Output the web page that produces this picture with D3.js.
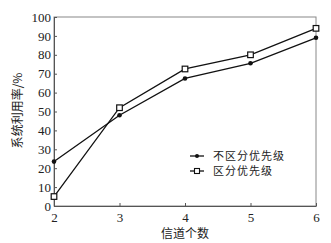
<!DOCTYPE html>
<html><head><meta charset="utf-8">
<script src="https://cdn.jsdelivr.net/npm/d3@7"></script>
<style>body{margin:0;background:#fff}svg{display:block}</style>
</head><body>
<script>
const channels = [2, 3, 4, 5, 6];
const noPriority = [23.5, 48, 67.5, 75.5, 89];
const withPriority = [5, 52, 72.5, 80, 94];
const yTicks = [0, 10, 20, 30, 40, 50, 60, 70, 80, 90, 100];
const seriesNames = ["不区分优先级", "区分优先级"];
const xLabel = "信道个数";
const yLabel = "系统利用率/%";

const W = 331, H = 243;
const m = {l: 54, r: 15, t: 17, b: 37};
const svg = d3.select("body").append("svg").attr("width", W).attr("height", H);
const x = d3.scaleLinear().domain([2, 6]).range([m.l, W - m.r]);
const y = d3.scaleLinear().domain([0, 100]).range([H - m.b, m.t]);
const serif = "'Liberation Serif','Times New Roman',serif";
const cjk = "'Noto Sans CJK SC',sans-serif";

// frame
svg.append("rect").attr("x", m.l).attr("y", m.t).attr("width", W - m.r - m.l).attr("height", H - m.b - m.t)
  .attr("fill", "none").attr("stroke", "#888").attr("stroke-width", 1);

const xa = svg.append("g").attr("transform", `translate(0,${H - m.b})`)
  .call(d3.axisBottom(x).tickValues(channels).tickFormat(d3.format("d")).tickSizeInner(-3).tickSizeOuter(0).tickPadding(7));
const ya = svg.append("g").attr("transform", `translate(${m.l},0)`)
  .call(d3.axisLeft(y).tickValues(yTicks).tickSizeInner(-3).tickSizeOuter(0).tickPadding(3));
[xa, ya].forEach(g => {
  g.select(".domain").attr("stroke", "#555");
  g.selectAll(".tick line").attr("stroke", "#555");
  g.selectAll(".tick text").attr("font-family", serif).attr("font-size", 13).attr("fill", "#222");
});

const line = d3.line().x((d, i) => x(channels[i])).y(d => y(d));
[noPriority, withPriority].forEach((s, k) => {
  svg.append("path").datum(s).attr("d", line).attr("fill", "none").attr("stroke", "#111").attr("stroke-width", 1.3);
  if (k === 0) {
    svg.selectAll(null).data(s).enter().append("circle")
      .attr("cx", (d, i) => x(channels[i])).attr("cy", d => y(d)).attr("r", 2.3).attr("fill", "#111");
  } else {
    svg.selectAll(null).data(s).enter().append("rect")
      .attr("x", (d, i) => x(channels[i]) - 2.8).attr("y", d => y(d) - 2.8)
      .attr("width", 5.6).attr("height", 5.6).attr("fill", "#fff").attr("stroke", "#111").attr("stroke-width", 1.2);
  }
});

// legend
const lg = svg.append("g");
seriesNames.forEach((n, k) => {
  const ly = 156 + k * 15;
  lg.append("line").attr("x1", 190).attr("x2", 204).attr("y1", ly).attr("y2", ly).attr("stroke", "#111").attr("stroke-width", 1.3);
  if (k === 0) lg.append("circle").attr("cx", 197).attr("cy", ly).attr("r", 2).attr("fill", "#111");
  else lg.append("rect").attr("x", 194.5).attr("y", ly - 2.5).attr("width", 5).attr("height", 5).attr("fill", "#fff").attr("stroke", "#111").attr("stroke-width", 1.1);
  lg.append("text").attr("x", 213).attr("y", ly).attr("dy", "0.35em").attr("font-family", cjk).attr("font-size", 11).attr("letter-spacing", 1).attr("fill", "#222").text(n);
});

svg.append("text").attr("x", (m.l + W - m.r) / 2).attr("y", 238).attr("text-anchor", "middle")
  .attr("font-family", cjk).attr("font-size", 12).attr("fill", "#222").text(xLabel);
svg.append("text").attr("transform", `translate(22,${(m.t + H - m.b) / 2 - 1}) rotate(-90)`).attr("text-anchor", "middle")
  .attr("font-family", cjk).attr("font-size", 12).attr("fill", "#222").text(yLabel);
</script>
</body></html>
